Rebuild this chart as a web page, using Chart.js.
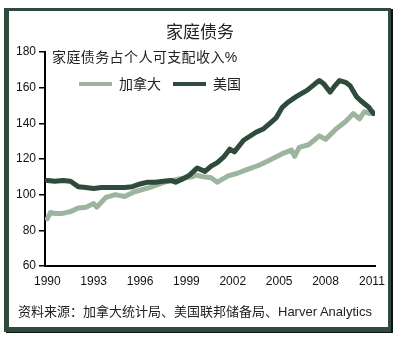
<!DOCTYPE html>
<html>
<head>
<meta charset="utf-8">
<script src="https://cdn.jsdelivr.net/npm/chart.js@4.4.0/dist/chart.umd.min.js"></script>
<style>
body { margin: 0; background: #fff; }
#wrap { position: relative; width: 400px; height: 338px; font-family: "Liberation Sans", "Noto Sans CJK SC", sans-serif; color: #222; }
#chart { position: absolute; left: 0; top: 0; }
.frame { position: absolute; left: 4px; top: 8px; width: 379px; height: 316px; border-style: solid; border-color: #2e4b3c; border-width: 3px 3px 5px 5px; box-shadow: 2px 1px 0 #111; pointer-events: none; }
.title { position: absolute; left: 0; top: 23px; width: 400px; text-align: center; font-size: 17px; line-height: 20px; }
.sub { position: absolute; left: 52px; top: 49px; font-size: 14px; line-height: 16px; letter-spacing: 0.4px; }
#legend { position: absolute; left: 79px; top: 76px; display: flex; align-items: center; font-size: 14px; line-height: 16px; }
#legend .sw { display: inline-block; width: 33px; height: 4px; margin-right: 7px; }
#legend .item { display: flex; align-items: center; margin-right: 12px; }
.src { position: absolute; left: 18px; top: 304px; font-size: 13px; line-height: 16px; }
</style>
</head>
<body>
<div id="wrap">
  <canvas id="chart" width="400" height="338"></canvas>
  <div class="title">家庭债务</div>
  <div class="sub">家庭债务占个人可支配收入%</div>
  <div id="legend"></div>
  <div class="src">资料来源：加拿大统计局、美国联邦储备局、Harver Analytics</div>
  <div class="frame"></div>
</div>
<script>
// 加拿大
var caYears = [1990.0, 1990.2, 1990.5, 1991.0, 1991.5, 1992.0, 1992.5, 1993.0, 1993.2, 1993.8,
  1994.4, 1995.0, 1995.6, 1996.6, 1997.6, 1998.6, 1999.4, 1999.6, 2000.1, 2000.6,
  2001.0, 2001.7, 2002.3, 2002.9, 2003.7, 2004.4, 2005.2, 2005.8, 2006.0, 2006.3,
  2006.9, 2007.6, 2008.0, 2008.7, 2009.3, 2009.8, 2010.2, 2010.5, 2010.9, 2011.1];
var caValues = [86.5, 90, 89.5, 89.5, 90.5, 92.5, 93, 95, 93, 98.5,
  100, 99, 101.5, 104, 107, 109, 110, 111, 110, 109.5,
  107, 110.5, 112, 114, 116.5, 119.5, 123, 125, 121.5, 126.5,
  128, 133, 131, 137, 141, 145.5, 142.5, 146.5, 145.5, 146];

// 美国
var usYears = [1990.0, 1990.5, 1991.0, 1991.5, 1992.0, 1992.5, 1993.0, 1993.5, 1994.0, 1994.5,
  1995.0, 1995.5, 1996.0, 1996.5, 1997.0, 1997.5, 1998.0, 1998.3, 1998.8, 1999.2,
  1999.7, 2000.2, 2000.6, 2001.0, 2001.4, 2001.8, 2002.1, 2002.7, 2003.5, 2004.0,
  2004.4, 2004.8, 2005.2, 2005.6, 2006.1, 2006.8, 2007.3, 2007.6, 2007.9, 2008.3,
  2008.6, 2008.9, 2009.3, 2009.6, 2010.0, 2010.3, 2010.8, 2011.1];
var usValues = [108, 107.5, 108, 107.5, 104.5, 104, 103.5, 104, 104, 104,
  104, 104.5, 106, 107, 107, 107.5, 108, 107, 109, 111,
  115, 113, 116, 118, 121, 125.5, 124, 130.5, 135, 137,
  140, 143, 149, 152, 155, 158.5, 162, 164, 162, 157.5,
  161, 164, 163, 161, 155, 152.5, 149, 145.5];

var xTicks = [1990, 1993, 1996, 1999, 2002, 2005, 2008, 2011];
var yTicks = [60, 80, 100, 120, 140, 160, 180];

var lightGreen = "#9db59f";
var darkGreen = "#2e4b3c";

function toPoints(xs, ys) {
    return xs.map(function(x, i) { return { x: x, y: ys[i] }; });
}

document.addEventListener("DOMContentLoaded", function() {
    var ctx = document.getElementById("chart").getContext("2d");
    var chart = new Chart(ctx, {
        type: "line",
        data: {
            datasets: [{
                label: "加拿大",
                data: toPoints(caYears, caValues),
                borderColor: lightGreen,
                borderWidth: 5,
                pointRadius: 0,
                borderJoinStyle: "round",
                borderCapStyle: "round",
                order: 2
            }, {
                label: "美国",
                data: toPoints(usYears, usValues),
                borderColor: darkGreen,
                borderWidth: 5,
                pointRadius: 0,
                borderJoinStyle: "round",
                borderCapStyle: "round",
                order: 1
            }]
        },
        options: {
            responsive: false,
            animation: false,
            layout: { padding: { top: 52, right: 25, bottom: 48, left: 0 } },
            plugins: {
                legend: { display: false },
                title: { display: false },
                tooltip: { enabled: false }
            },
            scales: {
                x: {
                    type: "linear",
                    min: 1989.85,
                    max: 2011.2,
                    afterBuildTicks: function(scale) {
                        scale.ticks = xTicks.map(function(v) { return { value: v }; });
                    },
                    afterFit: function(scale) { scale.height = 24; },
                    ticks: {
                        autoSkip: false,
                        maxRotation: 0,
                        padding: 8,
                        color: "#111",
                        font: { family: "Liberation Sans", size: 12 },
                        callback: function(v) { return String(v); }
                    },
                    grid: { display: false, drawTicks: false },
                    border: { display: true, color: "#000", width: 2 }
                },
                y: {
                    min: 60,
                    max: 180,
                    afterBuildTicks: function(scale) {
                        scale.ticks = yTicks.map(function(v) { return { value: v }; });
                    },
                    afterFit: function(scale) { scale.width = 45; },
                    ticks: {
                        padding: 3,
                        color: "#111",
                        font: { family: "Liberation Sans", size: 12 }
                    },
                    grid: { drawOnChartArea: false, drawTicks: true, tickLength: 6, color: "#000", lineWidth: 1.5 },
                    border: { display: true, color: "#000", width: 2 }
                }
            }
        }
    });

    // legend built from the datasets
    var legend = document.getElementById("legend");
    chart.data.datasets.forEach(function(ds) {
        var item = document.createElement("div");
        item.className = "item";
        var sw = document.createElement("span");
        sw.className = "sw";
        sw.style.background = ds.borderColor;
        item.appendChild(sw);
        item.appendChild(document.createTextNode(ds.label));
        legend.appendChild(item);
    });
});
</script>
</body>
</html>
